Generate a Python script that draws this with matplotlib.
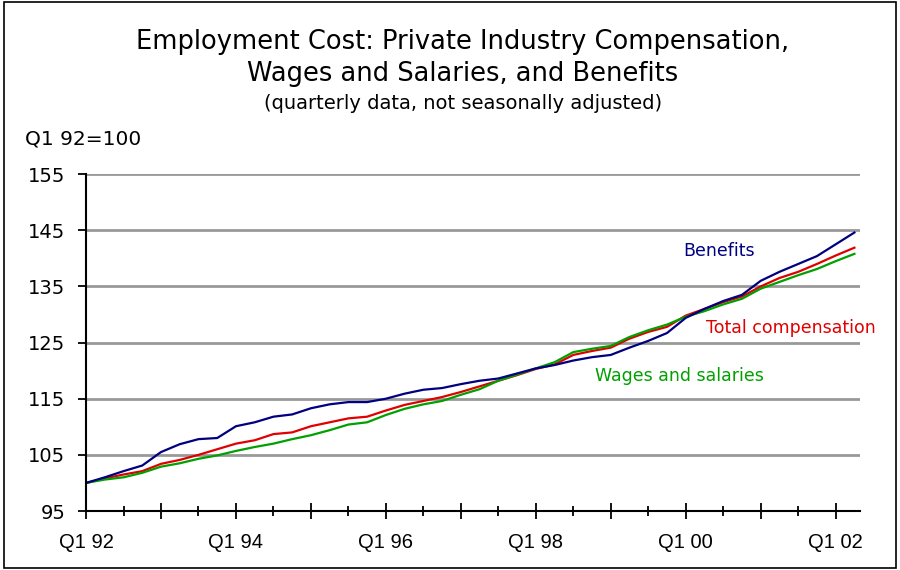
import matplotlib.pyplot as plt
from matplotlib.patches import Rectangle
import numpy as np

plt.rcParams['font.family'] = ['DejaVu Sans']

# quarters Q1 1992 .. Q2 2002, index Q1 92 = 100
quarters = [f"Q{q} {y % 100:02d}" for y in range(1992, 2003) for q in range(1, 5)][:42]

benefits = [100, 101.0, 102.1, 103.1, 105.5, 106.9, 107.8, 108.0, 110.1, 110.8,
            111.8, 112.2, 113.3, 114.0, 114.4, 114.4, 115.0, 115.9, 116.6, 116.9,
            117.6, 118.2, 118.6, 119.5, 120.4, 121.0, 121.8, 122.4, 122.8, 124.1,
            125.3, 126.7, 129.4, 131.0, 132.4, 133.5, 136.0, 137.6, 139.0, 140.4,
            142.5, 144.6]
total_comp = [100, 100.8, 101.5, 102.1, 103.4, 104.1, 105.0, 106.0, 107.0, 107.6,
              108.7, 109.0, 110.1, 110.8, 111.5, 111.8, 112.9, 113.9, 114.6, 115.3,
              116.2, 117.2, 118.2, 119.2, 120.3, 121.1, 122.8, 123.5, 124.1, 125.7,
              126.9, 127.8, 129.8, 131.0, 132.2, 133.2, 135.0, 136.5, 137.6, 139.0,
              140.5, 141.9]
wages = [100, 100.6, 101.0, 101.8, 102.9, 103.5, 104.3, 104.9, 105.7, 106.4,
         107.0, 107.8, 108.5, 109.4, 110.4, 110.8, 112.1, 113.2, 114.0, 114.6,
         115.7, 116.7, 118.2, 119.3, 120.4, 121.5, 123.3, 123.9, 124.4, 126.0,
         127.2, 128.2, 129.6, 130.6, 131.8, 132.8, 134.6, 135.8, 137.0, 138.1,
         139.5, 140.8]

y_ticks = [95, 105, 115, 125, 135, 145, 155]

navy = '#000080'
red = '#e00000'
green = '#00a000'

fig = plt.figure(figsize=(9, 5.7), dpi=100)
ax = fig.add_axes([0.0956, 0.1035, 0.86, 0.591])

x = np.arange(len(quarters))
ax.plot(x, total_comp, color=red, lw=1.6, zorder=3)
ax.plot(x, wages, color=green, lw=1.6, zorder=4)
ax.plot(x, benefits, color=navy, lw=1.6, zorder=5)

ax.set_xlim(0, 41.3)
ax.set_ylim(95, 155)
ax.set_yticks(y_ticks)
ax.yaxis.grid(True, color='#999999', lw=2)
ax.set_axisbelow(True)

major = x[::4]
ax.set_xticks(major)
ax.set_xticklabels([quarters[i] if i % 8 == 0 else '' for i in major],
                   family='Liberation Sans', fontsize=14.5)
ax.set_xticks(x[2::4], minor=True)
ax.tick_params(axis='x', which='major', direction='inout', length=12, width=1.3, pad=10)
ax.tick_params(axis='x', which='minor', direction='inout', length=7, width=1.3)
ax.tick_params(axis='y', direction='out', length=6, width=1.3, labelsize=14, pad=9)

for s in ['top', 'right']:
    ax.spines[s].set_visible(False)
for s in ['left', 'bottom']:
    ax.spines[s].set_linewidth(1.5)
    ax.spines[s].set_zorder(6)

ax.text(31.84, 141.3, 'Benefits', color=navy, fontsize=12.5, va='center')
ax.text(33.07, 127.6, 'Total compensation', color=red, fontsize=12.5, va='center')
ax.text(27.15, 119.0, 'Wages and salaries', color=green, fontsize=12.5, va='center')

fig.text(0.514, 0.927, 'Employment Cost: Private Industry Compensation,',
         ha='center', va='center', fontsize=18.5)
fig.text(0.514, 0.870, 'Wages and Salaries, and Benefits',
         ha='center', va='center', fontsize=18.5)
fig.text(0.514, 0.818, '(quarterly data, not seasonally adjusted)',
         ha='center', va='center', fontsize=14)
fig.text(0.028, 0.756, 'Q1 92=100', ha='left', va='center', fontsize=14.5)

fig.patches.append(Rectangle((0.004, 0.004), 0.992, 0.992, transform=fig.transFigure,
                             fill=False, edgecolor='black', lw=1.2))

fig.savefig('out.png', dpi=100)
